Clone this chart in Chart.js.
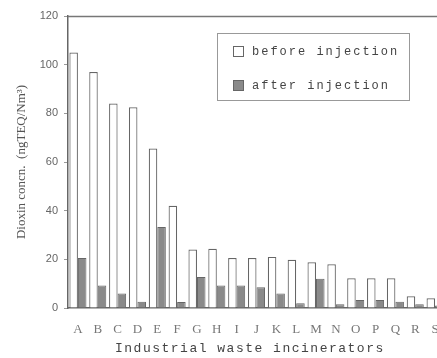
<!DOCTYPE html>
<html>
<head>
<meta charset="utf-8">
<script src="https://cdn.jsdelivr.net/npm/chart.js@4.4.0/dist/chart.umd.min.js"></script>
<style>
  html, body { margin:0; padding:0; background:#fff; overflow:hidden; }
  #wrap { width:450px; height:358px; }
</style>
</head>
<body>
<div id="wrap"><canvas id="c" width="450" height="358"></canvas></div>
<script>
const plants = ['A','B','C','D','E','F','G','H','I','J','K','L','M','N','O','P','Q','R','S'];
const beforeInj = [105, 97, 84, 82.5, 65.5, 42, 24, 24.3, 20.5, 20.5, 21, 19.8, 18.8, 18, 12.2, 12.2, 12.2, 4.8, 4];
const afterInj  = [20.5, 9.2, 6, 2.6, 33.3, 2.5, 12.7, 9.2, 9.2, 8.5, 6, 2, 12, 1.5, 3.3, 3.3, 2.6, 1.5, 1];
const seriesNames = ['before injection', 'after injection'];
const xTitle = 'Industrial waste incinerators';

const frame = {
  id:'frame',
  afterDraw(chart){
    const {ctx, chartArea:a} = chart;
    ctx.save();
    ctx.strokeStyle = '#777'; ctx.lineWidth = 1.5;
    ctx.beginPath(); ctx.moveTo(a.left, a.top + 0.5); ctx.lineTo(a.right + 10, a.top + 0.5); ctx.stroke();
    // legend box inside plot
    const bx = 217, by = 33, bw = 192, bh = 67;
    ctx.strokeStyle = '#999'; ctx.lineWidth = 1;
    ctx.strokeRect(bx + 0.5, by + 0.5, bw, bh);
    ctx.font = '12px "Liberation Mono"';
    ctx.letterSpacing = '2px';
    ctx.textBaseline = 'middle';
    chart.data.datasets.forEach((ds, i) => {
      const y = by + 19 + i * 34;
      ctx.fillStyle = ds.backgroundColor; ctx.strokeStyle = '#666';
      ctx.fillRect(233, y - 6, 11, 11); ctx.strokeRect(233.5, y - 5.5, 10, 10);
      ctx.fillStyle = '#444';
      ctx.fillText(ds.label, 252, y);
    });
    // x axis title, wide letter spacing like the scan
    ctx.font = '13px "Liberation Mono"';
    ctx.letterSpacing = '1.5px';
    ctx.fillStyle = '#444';
    ctx.fillText(xTitle, 115, 349);
    ctx.restore();
  }
};

new Chart(document.getElementById('c'), {
  type:'bar',
  data:{
    labels: plants,
    datasets:[
      { label: seriesNames[0], data: beforeInj, backgroundColor:'#ffffff', borderColor:'#666', borderWidth:1.2 },
      { label: seriesNames[1], data: afterInj, backgroundColor:'#8a8a8a', borderColor:'#666', borderWidth:1 }
    ]
  },
  options:{
    responsive:false, animation:false,
    layout:{ padding:{ left:0, top:16, right:5, bottom:0 } },
    plugins:{ legend:{ display:false }, tooltip:{ enabled:false } },
    datasets:{ bar:{ categoryPercentage:0.86, barPercentage:1 } },
    scales:{
      x:{
        grid:{ display:false },
        border:{ display:true, color:'#666', width:1.5 },
        ticks:{ color:'#777', padding:6, font:{ family:'"Liberation Serif"', size:13 } },
        afterFit(s){ s.height = 50; }
      },
      y:{
        min:0, max:120,
        grid:{ display:true, drawOnChartArea:false, drawTicks:true, tickLength:4, color:'#999' },
        border:{ display:true, color:'#666', width:1.5 },
        ticks:{ stepSize:20, color:'#666', padding:6, font:{ family:'"Liberation Sans"', size:11 } },
        title:{ display:true, text:'Dioxin concn.  (ngTEQ/Nm³)', color:'#555',
          font:{ family:'"Liberation Serif"', size:13 }, padding:{ top:14, bottom:0 } },
        afterFit(s){ s.width = 68; }
      }
    }
  },
  plugins:[frame]
});
</script>
</body>
</html>
